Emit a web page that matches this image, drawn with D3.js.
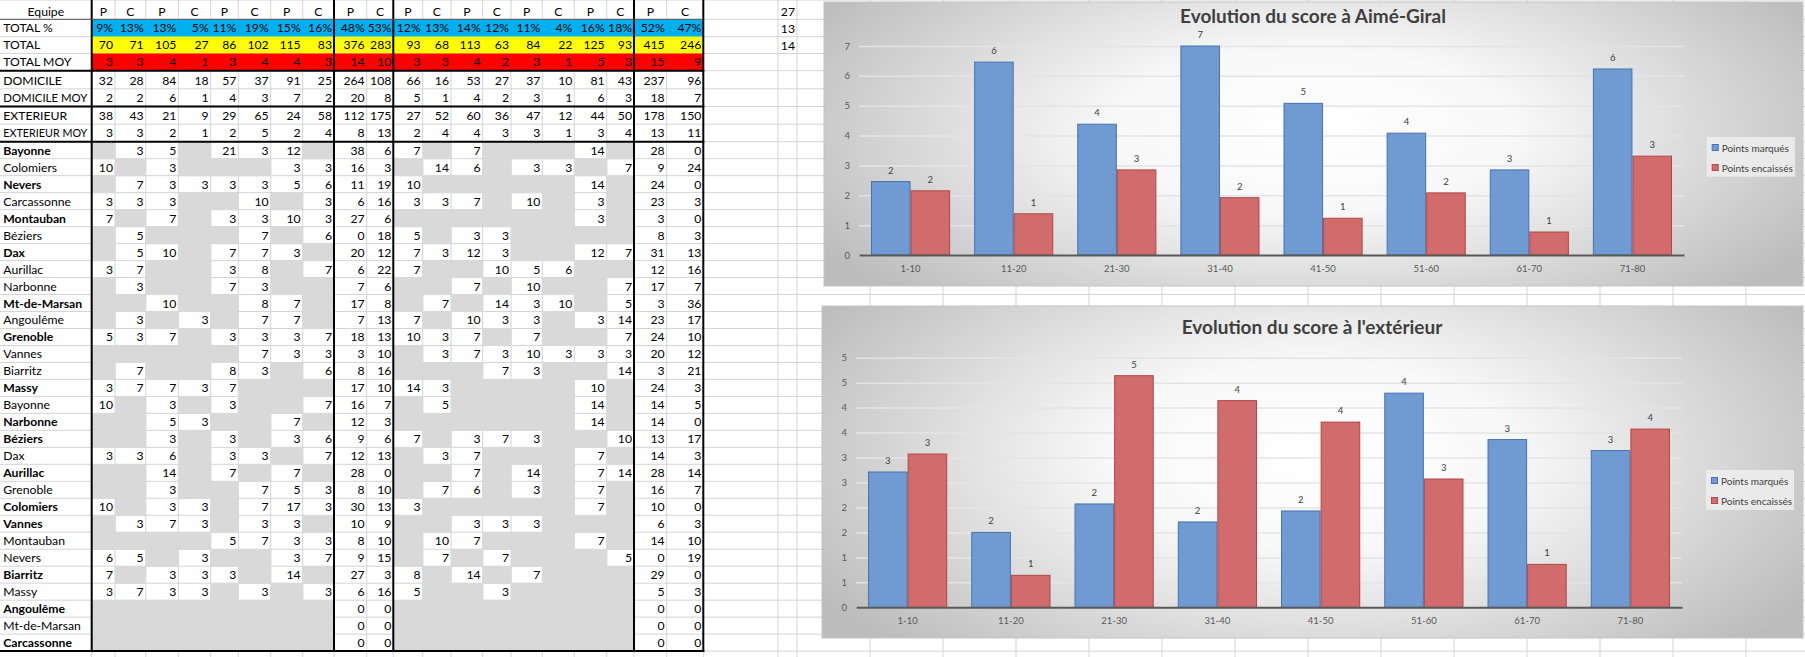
<!DOCTYPE html>
<html><head><meta charset="utf-8">
<script src="https://cdn.jsdelivr.net/npm/d3@7"></script>
<style>
html,body{margin:0;padding:0;background:#fff;overflow:hidden}
svg{display:block;font-family:Lato,"Liberation Sans",sans-serif}
</style></head><body>
<svg id="page" width="1805" height="657"></svg>
<script>
// ================= DATA =================
const columnHeaders = ["P","C","P","C","P","C","P","C","P","C","P","C","P","C","P","C","P","C","P","C"];
const summaryLabels = ["TOTAL %","TOTAL","TOTAL MOY","DOMICILE","DOMICILE MOY","EXTERIEUR","EXTERIEUR MOY"];
const totalPct     = ["9%","13%","13%","5%","11%","19%","15%","16%","48%","53%","12%","13%","14%","12%","11%","4%","16%","18%","52%","47%"];
const totalPts     = [70,71,105,27,86,102,115,83,376,283,93,68,113,63,84,22,125,93,415,246];
const totalMoy     = [3,3,4,1,3,4,4,3,14,10,3,3,4,2,3,1,5,3,15,9];
const domicile     = [32,28,84,18,57,37,91,25,264,108,66,16,53,27,37,10,81,43,237,96];
const domicileMoy  = [2,2,6,1,4,3,7,2,20,8,5,1,4,2,3,1,6,3,18,7];
const exterieur    = [38,43,21,9,29,65,24,58,112,175,27,52,60,36,47,12,44,50,178,150];
const exterieurMoy = [3,3,2,1,2,5,2,4,8,13,2,4,4,3,3,1,3,4,13,11];
const teams = ["Bayonne","Colomiers","Nevers","Carcassonne","Montauban","Béziers","Dax","Aurillac","Narbonne","Mt-de-Marsan","Angoulême","Grenoble","Vannes","Biarritz","Massy","Bayonne","Narbonne","Béziers","Dax","Aurillac","Grenoble","Colomiers","Vannes","Montauban","Nevers","Biarritz","Massy","Angoulême","Mt-de-Marsan","Carcassonne"];
const teamIsHome = [1,0,1,0,1,0,1,0,0,1,0,1,0,0,1,0,1,1,0,1,0,1,1,0,0,1,0,1,0,1];
const _ = null;
const teamScores = [
 [_,3,5,_,21,3,12,_, 38,6,  7,_,7,_,_,_,14,_, 28,0],
 [10,_,3,_,_,_,3,3, 16,3,  _,14,6,_,3,3,_,7, 9,24],
 [_,7,3,3,3,3,5,6, 11,19,  10,_,_,_,_,_,14,_, 24,0],
 [3,3,3,_,_,10,_,3, 6,16,  3,3,7,_,10,_,3,_, 23,3],
 [7,_,7,_,3,3,10,3, 27,6,  _,_,_,_,_,_,3,_, 3,0],
 [_,5,_,_,_,7,_,6, 0,18,  5,_,3,3,_,_,_,_, 8,3],
 [_,5,10,_,7,7,3,_, 20,12,  7,3,12,3,_,_,12,7, 31,13],
 [3,7,_,_,3,8,_,7, 6,22,  7,_,_,10,5,6,_,_, 12,16],
 [_,3,_,_,7,3,_,_, 7,6,  _,_,7,_,10,_,_,7, 17,7],
 [_,_,10,_,_,8,7,_, 17,8,  _,7,_,14,3,10,_,5, 3,36],
 [_,3,_,3,_,7,7,_, 7,13,  7,_,10,3,3,_,3,14, 23,17],
 [5,3,7,_,3,3,3,7, 18,13,  10,3,7,_,7,_,_,7, 24,10],
 [_,_,_,_,_,7,3,3, 3,10,  _,3,7,3,10,3,3,3, 20,12],
 [_,7,_,_,8,3,_,6, 8,16,  _,_,_,7,3,_,_,14, 3,21],
 [3,7,7,3,7,_,_,_, 17,10,  14,3,_,_,_,_,10,_, 24,3],
 [10,_,3,_,3,_,_,7, 16,7,  _,5,_,_,_,_,14,_, 14,5],
 [_,_,5,3,_,_,7,_, 12,3,  _,_,_,_,_,_,14,_, 14,0],
 [_,_,3,_,3,_,3,6, 9,6,  7,_,3,7,3,_,_,10, 13,17],
 [3,3,6,_,3,3,_,7, 12,13,  _,3,7,_,_,_,7,_, 14,3],
 [_,_,14,_,7,_,7,_, 28,0,  _,_,7,_,14,_,7,14, 28,14],
 [_,_,3,_,_,7,5,3, 8,10,  _,7,6,_,3,_,7,_, 16,7],
 [10,_,3,3,_,7,17,3, 30,13,  3,_,_,_,_,_,7,_, 10,0],
 [_,3,7,3,_,3,3,_, 10,9,  _,_,3,3,3,_,_,_, 6,3],
 [_,_,_,_,5,7,3,3, 8,10,  _,10,7,_,_,_,7,_, 14,10],
 [6,5,_,3,_,_,3,7, 9,15,  _,7,_,7,_,_,_,5, 0,19],
 [7,_,3,3,3,_,14,_, 27,3,  8,_,14,_,7,_,_,_, 29,0],
 [3,7,3,3,_,3,_,3, 6,16,  5,_,_,3,_,_,_,_, 5,3],
 [_,_,_,_,_,_,_,_, 0,0,  _,_,_,_,_,_,_,_, 0,0],
 [_,_,_,_,_,_,_,_, 0,0,  _,_,_,_,_,_,_,_, 0,0],
 [_,_,_,_,_,_,_,_, 0,0,  _,_,_,_,_,_,_,_, 0,0]
];
const sideCells = ["27","13","14"];

const categories = ["1-10","11-20","21-30","31-40","41-50","51-60","61-70","71-80"];
const seriesNames = ["Points marqués","Points encaissés"];
const homeScored   = [2.46,6.46,4.38,7.00,5.08,4.08,2.85,6.23];
const homeConceded = [2.15,1.38,2.85,1.92,1.23,2.08,0.77,3.31];
const awayScored   = [2.71,1.50,2.07,1.71,1.93,4.29,3.36,3.14];
const awayConceded = [3.07,0.64,4.64,4.14,3.71,2.57,0.86,3.57];
const homeTicks = [0,1,2,3,4,5,6,7];
const awayTicks = [0,0.5,1,1.5,2,2.5,3,3.5,4,4.5,5];
const titles = ["Evolution du score à Aimé-Giral","Evolution du score à l'extérieur"];

// ================= LAYOUT =================
const colEdges = [0,91.7,115,145.7,178.3,210.7,238.3,270.7,302.7,334,366.7,393.3,422.7,451,482.7,511,542.3,574.3,606.7,634,666.7,703.3];
const extraCols = [778,797,870,943,1016,1089,1162,1235,1308,1381,1454,1527,1600,1673,1746];
const rowEdges = [0,19.3,36.7,53.5,70.7,88.8,106.5,124.2,141.7];
for (let i = 0; i < 31; i++) rowEdges.push(141.7 + (i + 1) * 16.98);

const svg = d3.select("#page");
const defs = svg.append("defs");
const grad = defs.append("radialGradient").attr("id","bgGrad")
  .attr("cx",0).attr("cy",0).attr("r",1).attr("fx",0).attr("fy",0)
  .attr("gradientTransform","translate(0.5 0.45) scale(0.59 0.83)");
grad.append("stop").attr("offset","0").attr("stop-color","#ffffff");
grad.append("stop").attr("offset","0.35").attr("stop-color","#f8f8f8");
grad.append("stop").attr("offset","1").attr("stop-color","#bcbcbc");

function fit(sel, maxW) {
  const n = sel.node();
  if (n.getComputedTextLength() > maxW) sel.attr("textLength", maxW).attr("lengthAdjust","spacingAndGlyphs");
  return sel;
}

// ---- spreadsheet gridlines ----
const grid = svg.append("g").attr("stroke","#d4d4d4").attr("stroke-width",1);
colEdges.slice(1).concat(extraCols).forEach(x => {
  grid.append("line").attr("x1",x).attr("x2",x).attr("y1",0).attr("y2",657);
});
rowEdges.forEach(y => {
  grid.append("line").attr("x1",0).attr("x2",1805).attr("y1",y).attr("y2",y);
});

// ---- fills ----
const fills = svg.append("g");
const rowFills = ["#00b0f0","#ffff00","#ff0000"];
rowFills.forEach((f,i) => {
  fills.append("rect").attr("x",colEdges[1]).attr("y",rowEdges[i+1])
    .attr("width",colEdges[21]-colEdges[1]).attr("height",rowEdges[i+2]-rowEdges[i+1]).attr("fill",f);
});
teamScores.forEach((row,r) => {
  row.forEach((v,c) => {
    if (v === null) {
      fills.append("rect").attr("x",colEdges[c+1]).attr("y",rowEdges[8+r])
        .attr("width",colEdges[c+2]-colEdges[c+1]+0.6).attr("height",rowEdges[9+r]-rowEdges[8+r]+0.6)
        .attr("fill","#d9d9d9");
    }
  });
});

// ---- borders ----
const borders = svg.append("g").attr("stroke","#000");
[1,9,11,19,21].forEach(i => {
  borders.append("line").attr("x1",colEdges[i]).attr("x2",colEdges[i]).attr("y1",0).attr("y2",rowEdges[38]+1).attr("stroke-width",2);
});
[4,6,8,38].forEach(i => {
  borders.append("line").attr("x1",0).attr("x2",colEdges[21]+1).attr("y1",rowEdges[i]).attr("y2",rowEdges[i]).attr("stroke-width",2);
});
borders.append("line").attr("x1",0).attr("x2",colEdges[21]).attr("y1",rowEdges[1]).attr("y2",rowEdges[1]).attr("stroke-width",1).attr("stroke","#555");

// ---- table text ----
const txt = svg.append("g").attr("font-size","12.2px").attr("fill","#000");
txt.append("text").attr("x",colEdges[1]/2).attr("y",rowEdges[1]-3.8).attr("text-anchor","middle").text("Equipe");
columnHeaders.forEach((h,c) => {
  txt.append("text").attr("x",(colEdges[c+1]+colEdges[c+2])/2).attr("y",rowEdges[1]-3.8).attr("text-anchor","middle").text(h);
});
const summaryData = [totalPct,totalPts,totalMoy,domicile,domicileMoy,exterieur,exterieurMoy];
summaryData.forEach((vals,i) => {
  const yb = rowEdges[i+2]-4.3;
  fit(txt.append("text").attr("x",3.3).attr("y",yb).text(summaryLabels[i]), 84);
  vals.forEach((v,c) => {
    fit(txt.append("text").attr("x",colEdges[c+2]-2).attr("y",yb).attr("text-anchor","end").text(v), colEdges[c+2]-colEdges[c+1]-3);
  });
});
teamScores.forEach((row,r) => {
  const yb = rowEdges[9+r]-4;
  fit(txt.append("text").attr("x",3.3).attr("y",yb).attr("font-weight",teamIsHome[r]?"700":"400").text(teams[r]), 82);
  row.forEach((v,c) => {
    if (v !== null) txt.append("text").attr("x",colEdges[c+2]-2).attr("y",yb).attr("text-anchor","end").text(v);
  });
});
sideCells.forEach((v,i) => {
  txt.append("text").attr("x",extraCols[1]-2).attr("y",rowEdges[i+1]-3.8).attr("text-anchor","end").text(v);
});

// ================= CHARTS =================
function drawChart(cfg) {
  const g = svg.append("g");
  g.append("rect").attr("x",cfg.box[0]).attr("y",cfg.box[1])
    .attr("width",cfg.box[2]-cfg.box[0]).attr("height",cfg.box[3]-cfg.box[1])
    .attr("fill","url(#bgGrad)").attr("stroke","#c4c4c4").attr("stroke-width",1);

  const x0 = d3.scaleBand().domain(categories).range([cfg.left,cfg.right]).paddingInner(0.233).paddingOuter(0.1165);
  const x1 = d3.scaleBand().domain([0,1]).range([0,x0.bandwidth()]);
  const y = d3.scaleLinear().domain([0,cfg.max]).range([cfg.bottom,cfg.top]);

  const ya = g.append("g").attr("transform",`translate(${cfg.left},0)`)
    .call(d3.axisLeft(y).tickValues(cfg.ticks).tickSize(-(cfg.right-cfg.left)).tickPadding(9).tickFormat(d => Math.round(d)));
  ya.select(".domain").remove();
  ya.selectAll(".tick line").attr("stroke","#e4e4e4").attr("stroke-width",1.5);
  ya.selectAll(".tick text").attr("fill","#595959").attr("font-size","9.5px").style("font-family","Lato");

  const series = [cfg.scored, cfg.conceded];
  const fillsC = ["#6f9bd2","#d26c6c"];
  const strokesC = ["#4572b0","#b04646"];
  series.forEach((vals,s) => {
    g.append("g").selectAll("rect").data(vals).join("rect")
      .attr("x",(d,i) => x0(categories[i]) + x1(s) + 0.5)
      .attr("y",d => y(d))
      .attr("width",x1.bandwidth()-1)
      .attr("height",d => y(0)-y(d))
      .attr("fill",fillsC[s]).attr("stroke",strokesC[s]).attr("stroke-width",1);
    g.append("g").selectAll("text").data(vals).join("text")
      .attr("x",(d,i) => x0(categories[i]) + x1(s) + x1.bandwidth()/2)
      .attr("y",d => y(d)-8)
      .attr("text-anchor","middle").attr("font-size","9.5px").attr("fill","#404040")
      .text(d => Math.round(d));
  });

  const xa = g.append("g").attr("transform",`translate(0,${cfg.bottom})`)
    .call(d3.axisBottom(x0).tickSize(0).tickPadding(10));
  xa.select(".domain").attr("stroke","#595959").attr("stroke-width",2);
  xa.selectAll(".tick text").attr("fill","#595959").attr("font-size","9.5px").style("font-family","Lato");

  g.append("text").attr("x",cfg.titleX).attr("y",cfg.titleY).attr("text-anchor","middle")
    .attr("font-size","19px").attr("font-weight","700").attr("fill","#3f3f3f").text(cfg.title);

  const lg = g.append("g");
  lg.append("rect").attr("x",cfg.legend[0]).attr("y",cfg.legend[1])
    .attr("width",cfg.legend[2]-cfg.legend[0]).attr("height",cfg.legend[3]-cfg.legend[1])
    .attr("fill","#eeeeee").attr("opacity",0.85);
  seriesNames.forEach((nm,i) => {
    const cy = cfg.legend[1] + 11 + i*20;
    lg.append("rect").attr("x",cfg.legend[0]+5.5).attr("y",cy-3.5).attr("width",6).attr("height",6)
      .attr("fill",fillsC[i]).attr("stroke",strokesC[i]).attr("stroke-width",1);
    lg.append("text").attr("x",cfg.legend[0]+15).attr("y",cy+3.5).attr("font-size","10px").attr("fill","#404040").text(nm);
  });
}

drawChart({box:[824,2,1803,286], left:859, right:1684, top:46, bottom:255, max:7, ticks:homeTicks,
  scored:homeScored, conceded:homeConceded, title:titles[0], titleX:1313, titleY:22.7,
  legend:[1706.7,137,1795,176.7]});
drawChart({box:[822,306,1803,638], left:856, right:1682, top:357.7, bottom:607.3, max:5, ticks:awayTicks,
  scored:awayScored, conceded:awayConceded, title:titles[1], titleX:1312, titleY:334,
  legend:[1706,470,1794,510]});
</script>
</body></html>
